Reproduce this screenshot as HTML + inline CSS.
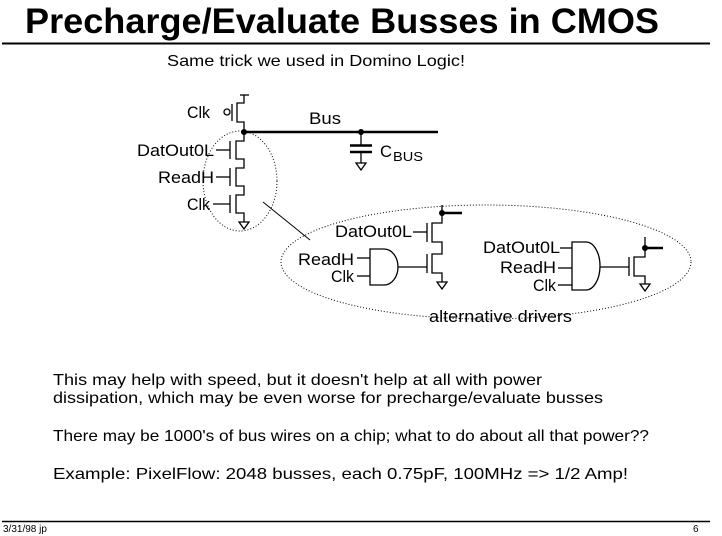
<!DOCTYPE html>
<html><head><meta charset="utf-8"><style>
html,body{margin:0;padding:0;background:#fff;}
svg{display:block;font-family:"Liberation Sans",sans-serif;}
</style></head><body>
<svg width="722" height="536" viewBox="0 0 722 536" xmlns="http://www.w3.org/2000/svg">
<rect width="722" height="536" fill="#fff"/>
<text x="25" y="33" font-size="35" font-weight="bold" textLength="634" lengthAdjust="spacingAndGlyphs">Precharge/Evaluate Busses in CMOS</text>
<line x1="2" y1="43.5" x2="710" y2="43.5" stroke="#000" stroke-width="2"/>
<text x="167" y="66" font-size="16" textLength="298" lengthAdjust="spacingAndGlyphs">Same trick we used in Domino Logic!</text>

<g stroke="#000" stroke-width="1.3" fill="none">
<line x1="240" y1="95" x2="249" y2="95"/>
<path d="M244 95 V103 H237 V122 H244 V132"/>
<line x1="232" y1="104" x2="232" y2="121"/>
<circle cx="227" cy="112" r="3"/>
<path d="M244 132 V141 H236 V159 H244 V168 H236 V186 H244 V195 H236 V213 H244 V222"/>
<line x1="230" y1="141" x2="230" y2="159"/>
<line x1="230" y1="168" x2="230" y2="186"/>
<line x1="230" y1="195" x2="230" y2="213"/>
<line x1="216" y1="150" x2="230" y2="150"/>
<line x1="216" y1="177" x2="230" y2="177"/>
<line x1="213" y1="204" x2="230" y2="204"/>
<path d="M239 222 H249 L244 229 Z"/>
<line x1="361" y1="132" x2="361" y2="145"/>
<line x1="350" y1="145.5" x2="372" y2="145.5" stroke-width="2.5"/>
<line x1="350" y1="152" x2="372" y2="152" stroke-width="2.5"/>
<line x1="361" y1="152" x2="361" y2="163"/>
<path d="M356 163 H366 L361 170 Z"/>
<ellipse cx="240" cy="181" rx="37" ry="50" stroke-dasharray="1 2" stroke-width="1"/>
<ellipse cx="486" cy="262" rx="205" ry="57" stroke-dasharray="1 2" stroke-width="1"/>
<line x1="263" y1="202" x2="310" y2="240" stroke-width="1"/>
<path d="M442 205 V223 H432 V242 H442 V254 H432 V273 H442 V282"/>
<line x1="427" y1="223" x2="427" y2="242"/>
<line x1="427" y1="254" x2="427" y2="273"/>
<line x1="413" y1="232" x2="427" y2="232"/>
<line x1="398" y1="267" x2="427" y2="267"/>
<path d="M437 282 H447 L442 289 Z"/>
<path d="M370 249 H384 A14 18 0 0 1 384 285 H370 Z"/>
<line x1="357" y1="258" x2="370" y2="258"/>
<line x1="357" y1="276" x2="370" y2="276"/>
<path d="M572 242 H586 A14 24 0 0 1 586 290 H572 Z"/>
<line x1="560" y1="248" x2="572" y2="248"/>
<line x1="558" y1="268" x2="572" y2="268"/>
<line x1="558" y1="285" x2="572" y2="285"/>
<line x1="600" y1="267" x2="629" y2="267"/>
<line x1="629" y1="257" x2="629" y2="276"/>
<path d="M645 237 V257 H634 V276 H645 V284"/>
<path d="M640 284 H650 L645 291 Z"/>
</g>
<line x1="244" y1="132" x2="438" y2="132" stroke="#000" stroke-width="2.5"/>
<line x1="442" y1="213" x2="462" y2="213" stroke="#000" stroke-width="2.5"/>
<line x1="645" y1="248" x2="663" y2="248" stroke="#000" stroke-width="2.5"/>
<circle cx="244" cy="132" r="3"/>
<circle cx="361" cy="132" r="3"/>
<circle cx="442" cy="213" r="3"/>
<circle cx="645" cy="248" r="3"/>

<g font-size="17" lengthAdjust="spacingAndGlyphs">
<text x="187" y="118" textLength="23" lengthAdjust="spacingAndGlyphs">Clk</text>
<text x="309" y="124" textLength="32" lengthAdjust="spacingAndGlyphs">Bus</text>
<text x="137" y="156" textLength="77" lengthAdjust="spacingAndGlyphs">DatOut0L</text>
<text x="158" y="183" textLength="56" lengthAdjust="spacingAndGlyphs">ReadH</text>
<text x="187" y="210" textLength="23" lengthAdjust="spacingAndGlyphs">Clk</text>
<text x="380" y="157" textLength="12" lengthAdjust="spacingAndGlyphs">C</text>
<text x="393" y="161" font-size="13" textLength="30" lengthAdjust="spacingAndGlyphs">BUS</text>
<text x="335" y="237" textLength="77" lengthAdjust="spacingAndGlyphs">DatOut0L</text>
<text x="298" y="265" textLength="56" lengthAdjust="spacingAndGlyphs">ReadH</text>
<text x="331" y="282" textLength="23" lengthAdjust="spacingAndGlyphs">Clk</text>
<text x="483" y="253" textLength="77" lengthAdjust="spacingAndGlyphs">DatOut0L</text>
<text x="500" y="273" textLength="56" lengthAdjust="spacingAndGlyphs">ReadH</text>
<text x="533" y="291" textLength="23" lengthAdjust="spacingAndGlyphs">Clk</text>
<text x="429" y="322" textLength="143" lengthAdjust="spacingAndGlyphs">alternative drivers</text>
</g>
<g font-size="16">
<text x="53" y="385" textLength="489" lengthAdjust="spacingAndGlyphs">This may help with speed, but it doesn't help at all with power</text>
<text x="53" y="403" textLength="550" lengthAdjust="spacingAndGlyphs">dissipation, which may be even worse for precharge/evaluate busses</text>
<text x="53" y="441" textLength="596" lengthAdjust="spacingAndGlyphs">There may be 1000's of bus wires on a chip; what to do about all that power??</text>
<text x="53" y="479" textLength="575" lengthAdjust="spacingAndGlyphs">Example:  PixelFlow:  2048 busses, each 0.75pF, 100MHz  =&gt; 1/2 Amp!</text>
</g>
<line x1="2" y1="521.5" x2="710" y2="521.5" stroke="#000" stroke-width="1.5"/>
<text x="3" y="532" font-size="10">3/31/98 jp</text>
<text x="693" y="532" font-size="10">6</text>
</svg>
</body></html>
